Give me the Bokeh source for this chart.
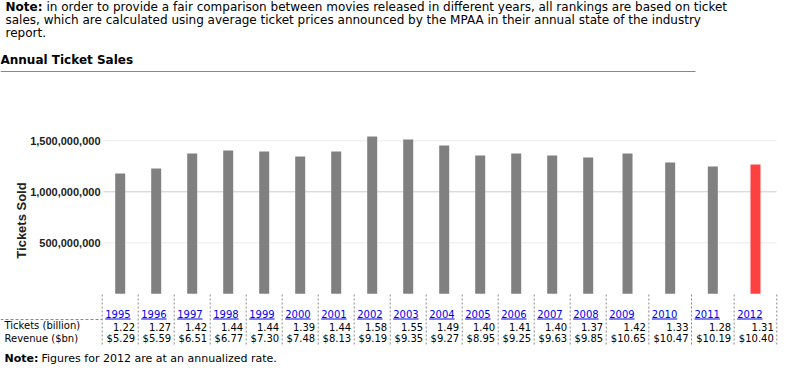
from bokeh.plotting import figure
from bokeh.models import Range1d
from bokeh.core.properties import value
from bokeh.embed import file_html
from bokeh.resources import INLINE
import math

# ---------------- data ----------------
years = ["1995", "1996", "1997", "1998", "1999", "2000", "2001", "2002", "2003",
         "2004", "2005", "2006", "2007", "2008", "2009", "2010", "2011", "2012"]
tickets_sold = [1.179e9, 1.228e9, 1.375e9, 1.405e9, 1.395e9, 1.346e9, 1.395e9, 1.542e9,
                1.513e9, 1.454e9, 1.356e9, 1.375e9, 1.356e9, 1.336e9, 1.375e9, 1.287e9,
                1.248e9, 1.268e9]
tickets_billion = ["1.22", "1.27", "1.42", "1.44", "1.44", "1.39", "1.44", "1.58", "1.55",
                   "1.49", "1.40", "1.41", "1.40", "1.37", "1.42", "1.33", "1.28", "1.31"]
revenue_bn = ["$5.29", "$5.59", "$6.51", "$6.77", "$7.30", "$7.48", "$8.13", "$9.19", "$9.35",
              "$9.27", "$8.95", "$9.25", "$9.63", "$9.85", "$10.65", "$10.47", "$10.19", "$10.40"]
highlight_year = "2012"
y_ticks = [500_000_000, 1_000_000_000, 1_500_000_000]
y_tick_labels = ["500,000,000", "1,000,000,000", "1,500,000,000"]
row_labels = ["Tickets (billion)", "Revenue ($bn)"]
title_text = "Annual Ticket Sales"
note_lines = ["in order to provide a fair comparison between movies released in different years, all rankings are based on ticket",
              "sales, which are calculated using average ticket prices announced by the MPAA in their annual state of the industry",
              "report."]
bottom_note = "Figures for 2012 are at an annualized rate."

# ---------------- layout ----------------
W, H = 784, 368
zero_px = 293.3          # pixel row of zero tickets (from top)
px_per_unit = 102e-9     # pixels per ticket
y_bot = -(H - zero_px) / px_per_unit
y_top = zero_px / px_per_unit

p = figure(width=W, height=H, x_range=Range1d(0, W), y_range=Range1d(y_bot, y_top),
           output_backend="svg", toolbar_location=None, x_axis_type=None, y_axis_type=None,
           min_border=0, min_border_left=0, min_border_right=0, min_border_top=0,
           min_border_bottom=0, outline_line_color=None,
           background_fill_color="white", border_fill_color="white")
p.extra_y_ranges = {"px": Range1d(H, 0)}

VERD = value("DejaVu Sans")
ARIAL = value("Liberation Sans")

# column geometry
col_widths = [36.0] * 14 + [42.65] * 4
edges = [101.7]
for w in col_widths:
    edges.append(edges[-1] + w)
centers = [(edges[i] + edges[i + 1]) / 2 for i in range(len(years))]
rights = [edges[i + 1] for i in range(len(years))]
lefts = [edges[i] for i in range(len(years))]

# gridlines
grid_colors = ["#ebebeb", "#cccccc", "#ebebeb"]
p.segment(x0=[103] * 3, x1=[776] * 3, y0=y_ticks, y1=y_ticks, line_color=grid_colors, line_width=1)

# tick labels
p.text(x=[100] * 3, y=y_ticks, text=y_tick_labels, text_align="right", text_baseline="middle",
       text_font=ARIAL, text_font_style="bold", text_font_size=value("11px"), text_color="#222222")

# axis title
p.text(x=[21], y=[220], text=["Tickets Sold"], angle=math.pi / 2, text_align="center",
       text_baseline="middle", text_font=ARIAL, text_font_style="bold",
       text_font_size=value("13px"), text_color="#222222", y_range_name="px")

# bars
colors = ["#ff4040" if y == highlight_year else "#808080" for y in years]
p.vbar(x=centers, width=10, top=tickets_sold, bottom=0, fill_color=colors, line_color=None)

# top note
p.text(x=[5], y=[13], text=["Note:"], text_font=VERD, text_font_style="bold",
       text_font_size=value("12px"), text_color="black", y_range_name="px")
p.text(x=[46, 5, 5], y=[13, 26, 39], text=note_lines, text_font=VERD,
       text_font_size=value("12px"), text_color="black", y_range_name="px")

# title and rule
p.text(x=[0], y=[66], text=[title_text], text_font=VERD, text_font_style="bold",
       text_font_size=value("12px"), text_color="black", y_range_name="px")
p.segment(x0=[0], x1=[695], y0=[71], y1=[71], line_color="#888888", line_width=1, y_range_name="px")

# table: vertical dashed separators
p.segment(x0=edges, x1=edges, y0=[294] * len(edges), y1=[345] * len(edges),
          line_color="#888888", line_width=1, line_dash="2 2", y_range_name="px")
p.segment(x0=[0], x1=[101.7], y0=[319], y1=[319], line_color="#888888", line_width=1,
          line_dash="3 2", y_range_name="px")

# year links
year_x = [l + 3 for l in lefts]
p.text(x=year_x, y=[317] * len(years), text=years, text_font=VERD, text_font_size=value("10px"),
       text_color="#0000ee", y_range_name="px")
p.segment(x0=year_x, x1=[x + 25.4 for x in year_x], y0=[318.5] * len(years), y1=[318.5] * len(years),
          line_color="#0000ee", line_width=1, y_range_name="px")

# rows
p.text(x=[4, 4], y=[330, 343], text=row_labels, text_font=VERD, text_font_size=value("10px"),
       text_color="black", y_range_name="px")
p.text(x=[r - 3 for r in rights], y=[330] * len(years), text=tickets_billion, text_align="right",
       text_font=VERD, text_font_size=value("10px"), text_color="black", y_range_name="px")
p.text(x=[r - 3 for r in rights], y=[343] * len(years), text=revenue_bn, text_align="right",
       text_font=VERD, text_font_size=value("10px"), text_color="black", y_range_name="px")

# bottom note
p.text(x=[4], y=[364], text=["Note:"], text_font=VERD, text_font_style="bold",
       text_font_size=value("11px"), text_color="black", y_range_name="px")
p.text(x=[41], y=[364], text=[bottom_note], text_font=VERD,
       text_font_size=value("11px"), text_color="black", y_range_name="px")

open("out.html", "w").write(file_html(p, INLINE))
